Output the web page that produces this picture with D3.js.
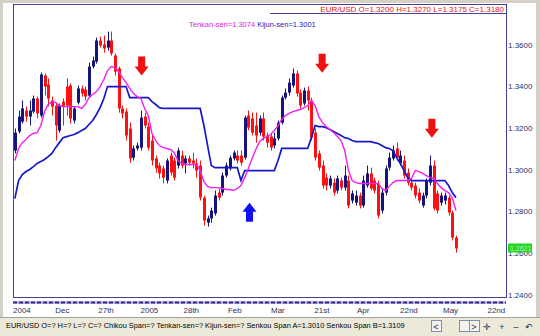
<!DOCTYPE html>
<html>
<head>
<meta charset="utf-8">
<script src="https://cdn.jsdelivr.net/npm/d3@7"></script>
<style>
body { margin: 0; background: #fff; }
svg { display: block; font-family: "Liberation Sans", Arial, sans-serif; }
</style>
</head>
<body>
<svg></svg>
<script>
var svgWidth = 540, svgHeight = 336;

// daily EUR/USD candles
var openP = [
  1.3091, 1.3182, 1.3230, 1.3283, 1.3254, 1.3278, 1.3341, 1.3259, 1.3451, 1.3408,
  1.3331, 1.3307, 1.3187, 1.3326, 1.3398, 1.3403, 1.3235, 1.3321, 1.3389, 1.3384,
  1.3355, 1.3494, 1.3518, 1.3619, 1.3600, 1.3585, 1.3619, 1.3547, 1.3485, 1.3293,
  1.3278, 1.3197, 1.3057, 1.3101, 1.3105, 1.3254, 1.3206, 1.3139, 1.3053, 1.3019,
  1.3005, 1.2947, 1.3067, 1.3043, 1.3019, 1.3067, 1.3029, 1.3053, 1.3043, 1.3029,
  1.3019, 1.2865, 1.2745, 1.2765, 1.2789, 1.2889, 1.2889, 1.2971, 1.3005, 1.3053,
  1.3067, 1.3067, 1.3057, 1.3259, 1.3245, 1.3211, 1.3177, 1.3245, 1.3163, 1.3158,
  1.3115, 1.3149, 1.3225, 1.3345, 1.3369, 1.3403, 1.3461, 1.3369, 1.3317, 1.3379,
  1.3331, 1.3177, 1.3077, 1.3019, 1.2961, 1.2923, 1.2937, 1.2899, 1.2947, 1.2913,
  1.2947, 1.2851, 1.2841, 1.2875, 1.2827, 1.2923, 1.2981, 1.2947, 1.2933, 1.2803,
  1.2889, 1.3009, 1.3053, 1.3101, 1.3029, 1.3043, 1.2985, 1.2937, 1.2923, 1.2889,
  1.2827, 1.2875, 1.2937, 1.3019, 1.2885, 1.2841, 1.2851, 1.2865, 1.2793, 1.2673
];
var highP = [
  1.3197, 1.3283, 1.3331, 1.3302, 1.3331, 1.3355, 1.3350, 1.3465, 1.3461, 1.3437,
  1.3350, 1.3321, 1.3317, 1.3341, 1.3437, 1.3413, 1.3302, 1.3403, 1.3403, 1.3398,
  1.3513, 1.3542, 1.3633, 1.3638, 1.3643, 1.3662, 1.3662, 1.3557, 1.3494, 1.3307,
  1.3293, 1.3225, 1.3115, 1.3129, 1.3283, 1.3273, 1.3225, 1.3163, 1.3067, 1.3033,
  1.3019, 1.3053, 1.3081, 1.3057, 1.3105, 1.3091, 1.3067, 1.3067, 1.3081, 1.3053,
  1.3043, 1.2875, 1.2779, 1.2817, 1.2899, 1.2909, 1.2985, 1.3033, 1.3067, 1.3091,
  1.3091, 1.3091, 1.3259, 1.3283, 1.3273, 1.3273, 1.3259, 1.3273, 1.3177, 1.3173,
  1.3177, 1.3235, 1.3355, 1.3389, 1.3437, 1.3485, 1.3475, 1.3384, 1.3393, 1.3398,
  1.3345, 1.3197, 1.3091, 1.3043, 1.2981, 1.2971, 1.2957, 1.2971, 1.2961, 1.3019,
  1.2971, 1.2899, 1.2899, 1.2889, 1.2971, 1.3019, 1.3009, 1.2961, 1.2947, 1.2909,
  1.3019, 1.3081, 1.3115, 1.3129, 1.3091, 1.3067, 1.3005, 1.2957, 1.2937, 1.2909,
  1.2889, 1.2957, 1.3067, 1.3043, 1.2899, 1.2889, 1.2889, 1.2875, 1.2803, 1.2683
];
var lowP = [
  1.3077, 1.3173, 1.3221, 1.3230, 1.3211, 1.3269, 1.3245, 1.3249, 1.3355, 1.3302,
  1.3259, 1.3139, 1.3177, 1.3211, 1.3259, 1.3221, 1.3221, 1.3312, 1.3350, 1.3331,
  1.3345, 1.3485, 1.3509, 1.3585, 1.3561, 1.3571, 1.3547, 1.3451, 1.3273, 1.3245,
  1.3139, 1.3033, 1.3043, 1.3091, 1.3091, 1.3197, 1.3091, 1.3019, 1.2985, 1.2957,
  1.2933, 1.2933, 1.2971, 1.2947, 1.3005, 1.3005, 1.2981, 1.3019, 1.3005, 1.2961,
  1.2851, 1.2731, 1.2726, 1.2745, 1.2779, 1.2851, 1.2875, 1.2961, 1.2995, 1.3043,
  1.3029, 1.3019, 1.3048, 1.3187, 1.3163, 1.3129, 1.3163, 1.3139, 1.3105, 1.3091,
  1.3101, 1.3139, 1.3216, 1.3336, 1.3355, 1.3393, 1.3350, 1.3293, 1.3307, 1.3283,
  1.3139, 1.3043, 1.2995, 1.2909, 1.2899, 1.2909, 1.2875, 1.2885, 1.2899, 1.2899,
  1.2813, 1.2837, 1.2827, 1.2813, 1.2817, 1.2913, 1.2899, 1.2885, 1.2765, 1.2789,
  1.2875, 1.2995, 1.3043, 1.3043, 1.3019, 1.2957, 1.2923, 1.2899, 1.2861, 1.2837,
  1.2817, 1.2861, 1.2923, 1.2803, 1.2789, 1.2827, 1.2832, 1.2779, 1.2659, 1.2601
];
var closeP = [
  1.3177, 1.3254, 1.3293, 1.3254, 1.3283, 1.3341, 1.3269, 1.3456, 1.3398, 1.3341,
  1.3302, 1.3211, 1.3307, 1.3302, 1.3307, 1.3245, 1.3293, 1.3389, 1.3365, 1.3350,
  1.3494, 1.3523, 1.3619, 1.3595, 1.3581, 1.3619, 1.3557, 1.3470, 1.3293, 1.3269,
  1.3163, 1.3053, 1.3101, 1.3115, 1.3249, 1.3211, 1.3105, 1.3043, 1.3005, 1.2981,
  1.2961, 1.3043, 1.2985, 1.2961, 1.3091, 1.3019, 1.3053, 1.3033, 1.3029, 1.2995,
  1.2865, 1.2755, 1.2765, 1.2803, 1.2875, 1.2865, 1.2971, 1.3019, 1.3057, 1.3081,
  1.3043, 1.3033, 1.3249, 1.3201, 1.3177, 1.3163, 1.3245, 1.3158, 1.3129, 1.3105,
  1.3149, 1.3225, 1.3345, 1.3369, 1.3417, 1.3461, 1.3365, 1.3307, 1.3379, 1.3331,
  1.3153, 1.3057, 1.3009, 1.2923, 1.2923, 1.2957, 1.2889, 1.2957, 1.2913, 1.2971,
  1.2827, 1.2885, 1.2875, 1.2827, 1.2947, 1.2981, 1.2909, 1.2899, 1.2779, 1.2889,
  1.3005, 1.3057, 1.3091, 1.3057, 1.3067, 1.2971, 1.2937, 1.2913, 1.2875, 1.2851,
  1.2875, 1.2947, 1.3019, 1.2813, 1.2803, 1.2875, 1.2875, 1.2793, 1.2673, 1.2621
];

// ichimoku lines
var tenkan = [
  1.3043, 1.3101, 1.3129, 1.3144, 1.3163, 1.3173, 1.3177, 1.3211, 1.3278, 1.3312,
  1.3326, 1.3321, 1.3307, 1.3302, 1.3302, 1.3302, 1.3302, 1.3302, 1.3293, 1.3312,
  1.3345, 1.3360, 1.3374, 1.3398, 1.3432, 1.3475, 1.3494, 1.3489, 1.3470, 1.3441,
  1.3417, 1.3389, 1.3365, 1.3350, 1.3341, 1.3293, 1.3259, 1.3173, 1.3139, 1.3115,
  1.3105, 1.3101, 1.3096, 1.3081, 1.3043, 1.3029, 1.3024, 1.3024, 1.3024, 1.3024,
  1.2995, 1.2942, 1.2919, 1.2913, 1.2913, 1.2913, 1.2909, 1.2904, 1.2904, 1.2899,
  1.2909, 1.2923, 1.2961, 1.3005, 1.3053, 1.3096, 1.3134, 1.3149, 1.3158, 1.3168,
  1.3187, 1.3211, 1.3240, 1.3259, 1.3269, 1.3278, 1.3283, 1.3288, 1.3297, 1.3307,
  1.3331, 1.3307, 1.3254, 1.3225, 1.3206, 1.3192, 1.3177, 1.3158, 1.3139, 1.3091,
  1.2995, 1.2947, 1.2937, 1.2933, 1.2933, 1.2933, 1.2933, 1.2933, 1.2933, 1.2909,
  1.2899, 1.2919, 1.2937, 1.2947, 1.2947, 1.2947, 1.2947, 1.2957, 1.2995, 1.2990,
  1.2981, 1.2971, 1.2961, 1.2957, 1.2933, 1.2913, 1.2899, 1.2889, 1.2865, 1.2803
];
var kijun = [
  1.2861, 1.2947, 1.2976, 1.2990, 1.3000, 1.3014, 1.3029, 1.3038, 1.3048, 1.3062,
  1.3077, 1.3105, 1.3129, 1.3153, 1.3158, 1.3163, 1.3168, 1.3177, 1.3187, 1.3197,
  1.3216, 1.3235, 1.3264, 1.3297, 1.3341, 1.3398, 1.3398, 1.3398, 1.3398, 1.3398,
  1.3398, 1.3345, 1.3345, 1.3345, 1.3345, 1.3345, 1.3345, 1.3326, 1.3312, 1.3297,
  1.3293, 1.3293, 1.3293, 1.3293, 1.3293, 1.3293, 1.3293, 1.3293, 1.3293, 1.3293,
  1.3293, 1.3211, 1.3115, 1.3019, 1.3009, 1.3009, 1.3009, 1.3009, 1.3009, 1.3009,
  1.3009, 1.2947, 1.2995, 1.2995, 1.2995, 1.2995, 1.2995, 1.2995, 1.2995, 1.2995,
  1.2995, 1.3043, 1.3101, 1.3101, 1.3101, 1.3101, 1.3101, 1.3101, 1.3101, 1.3101,
  1.3153, 1.3211, 1.3206, 1.3206, 1.3201, 1.3192, 1.3182, 1.3173, 1.3163, 1.3153,
  1.3149, 1.3139, 1.3134, 1.3134, 1.3134, 1.3134, 1.3134, 1.3129, 1.3125, 1.3115,
  1.3105, 1.3101, 1.3091, 1.3057, 1.3029, 1.2995, 1.2961, 1.2947, 1.2947, 1.2947,
  1.2947, 1.2947, 1.2947, 1.2947, 1.2947, 1.2947, 1.2947, 1.2923, 1.2889, 1.2865
];

// x axis labels sit at these bar positions
var tickIdx = [0, 11.4, 23, 34.4, 46, 58, 69.6, 81.3, 92.8, 104.4, 116, 128];
var tickLabels = ["2004", "Dec", "27th", "2005", "28th", "Feb", "Mar", "21st", "Apr", "22nd", "May", "22nd"];
var priceTicks = [1.24, 1.26, 1.28, 1.30, 1.32, 1.34, 1.36];

// annotation arrows: bar position and price of the tip
var downArrows = [{i: 34.2, p: 1.3451}, {i: 82.9, p: 1.3465}, {i: 112.5, p: 1.3153}];
var upArrows = [{i: 63.3, p: 1.2841}];

var titleText = "EUR/USD O=1.3200 H=1.3270 L=1.3175 C=1.3180";
var tenkanText = "Tenkan-sen=1.3074";
var kijunText = "Kijun-sen=1.3001";
var statusText = "EUR/USD O=? H=? L=? C=?  Chikou Span=? Tenkan-sen=? Kijun-sen=? Senkou Span A=1.3010 Senkou Span B=1.3109";

var svg = d3.select("svg")
            .attr("width", svgWidth)
            .attr("height", svgHeight);

var plotLeft = 13, plotRight = 506, plotTop = 4, plotBottom = 297;

var x = d3.scaleLinear().domain([-0.5, 132.5]).range([plotLeft, plotRight]);
var y = d3.scaleLinear().domain([1.24, 1.36]).range([294.5, 44.5]);

// window chrome
svg.append("rect").attr("width", svgWidth).attr("height", svgHeight).attr("fill", "#d4d0c8");
svg.append("rect").attr("x", 3).attr("y", 3).attr("width", 533).attr("height", 314).attr("fill", "#fff");

// frame
svg.append("rect")
    .attr("x", plotLeft + 0.5).attr("y", plotTop + 0.5)
    .attr("width", plotRight - plotLeft).attr("height", plotBottom - plotTop)
    .attr("fill", "none").attr("stroke", "#4a3f96").attr("stroke-width", 1);

// price labels on the right
svg.append("g").selectAll("text")
    .data(priceTicks)
    .enter().append("text")
    .attr("x", plotRight + 2)
    .attr("y", function(d) { return y(d) + 3; })
    .attr("font-size", 8)
    .attr("fill", "#303060")
    .text(function(d) { return d.toFixed(4); });

// x axis dashed band + labels
svg.append("line")
    .attr("x1", plotLeft).attr("x2", plotRight)
    .attr("y1", 302.5).attr("y2", 302.5)
    .attr("stroke", "#c0b8e8").attr("stroke-width", 3);
svg.append("line")
    .attr("x1", plotLeft).attr("x2", plotRight)
    .attr("y1", 302.5).attr("y2", 302.5)
    .attr("stroke", "#3a2f8a").attr("stroke-width", 2)
    .attr("stroke-dasharray", "4,2");

svg.append("g").selectAll("text")
    .data(tickIdx)
    .enter().append("text")
    .attr("x", function(d) { return x(d - 0.5); })
    .attr("y", 313)
    .attr("font-size", 8)
    .attr("fill", "#303060")
    .text(function(d, i) { return tickLabels[i]; });

// candles
var bars = d3.range(closeP.length);
var upCol = "#14147e", downCol = "#ff1010";

var candles = svg.append("g");
candles.selectAll("line")
    .data(bars)
    .enter().append("line")
    .attr("x1", function(i) { return Math.round(x(i)) + 0.5; })
    .attr("x2", function(i) { return Math.round(x(i)) + 0.5; })
    .attr("y1", function(i) { return y(highP[i]); })
    .attr("y2", function(i) { return y(lowP[i]); })
    .attr("stroke", function(i) { return closeP[i] >= openP[i] ? upCol : downCol; })
    .attr("stroke-width", 1);

candles.selectAll("rect")
    .data(bars)
    .enter().append("rect")
    .attr("x", function(i) { return Math.round(x(i)) - 1; })
    .attr("width", 3)
    .attr("y", function(i) { return y(Math.max(openP[i], closeP[i])); })
    .attr("height", function(i) { return Math.max(1, Math.abs(y(openP[i]) - y(closeP[i]))); })
    .attr("fill", function(i) { return closeP[i] >= openP[i] ? upCol : downCol; });

// ichimoku lines
var line = d3.line()
    .x(function(d, i) { return x(i); })
    .y(function(d) { return y(d); });

svg.append("path").datum(kijun)
    .attr("d", line)
    .attr("fill", "none").attr("stroke", "#1818c8").attr("stroke-width", 1.7);
svg.append("path").datum(tenkan)
    .attr("d", line)
    .attr("fill", "none").attr("stroke", "#f020f0").attr("stroke-width", 1.4);

// arrows
function downArrow(d) {
    var cx = x(d.i), ty = y(d.p);
    return "M" + cx + "," + ty +
        "L" + (cx - 7) + "," + (ty - 9) + "L" + (cx - 3.5) + "," + (ty - 9) +
        "L" + (cx - 3.5) + "," + (ty - 19) + "L" + (cx + 3.5) + "," + (ty - 19) +
        "L" + (cx + 3.5) + "," + (ty - 9) + "L" + (cx + 7) + "," + (ty - 9) + "Z";
}
function upArrow(d) {
    var cx = x(d.i), ty = y(d.p);
    return "M" + cx + "," + ty +
        "L" + (cx - 7) + "," + (ty + 9) + "L" + (cx - 3.5) + "," + (ty + 9) +
        "L" + (cx - 3.5) + "," + (ty + 19) + "L" + (cx + 3.5) + "," + (ty + 19) +
        "L" + (cx + 3.5) + "," + (ty + 9) + "L" + (cx + 7) + "," + (ty + 9) + "Z";
}
svg.append("g").selectAll("path")
    .data(downArrows)
    .enter().append("path")
    .attr("d", downArrow)
    .attr("fill", "#f01010");
svg.append("g").selectAll("path")
    .data(upArrows)
    .enter().append("path")
    .attr("d", upArrow)
    .attr("fill", "#1010f0");

// last price tag, drawn over the 1.2600 label like the original
var last = closeP[closeP.length - 1];
svg.append("rect")
    .attr("x", plotRight + 2).attr("y", y(last) - 5)
    .attr("width", 24).attr("height", 9)
    .attr("fill", "#22d822");
svg.append("text")
    .attr("x", plotRight + 4).attr("y", y(last) + 2.5)
    .attr("font-size", 7).attr("fill", "#b8f0b8")
    .text(last.toFixed(4));

// header texts
svg.append("text")
    .attr("x", plotRight - 2).attr("y", 12)
    .attr("text-anchor", "end")
    .attr("font-size", 8).attr("fill", "#e01010")
    .text(titleText);
svg.append("line")
    .attr("x1", 270).attr("x2", plotRight)
    .attr("y1", 13.5).attr("y2", 13.5)
    .attr("stroke", "#4a3f96");
var hdr = svg.append("text")
    .attr("x", 189).attr("y", 27)
    .attr("font-size", 7.5);
hdr.append("tspan").attr("fill", "#e020e0").text(tenkanText + " ");
hdr.append("tspan").attr("fill", "#2020c0").text(kijunText);

// status bar
svg.append("rect").attr("x", 0).attr("y", 317).attr("width", svgWidth).attr("height", 19).attr("fill", "#ece9d8");
svg.append("line").attr("x1", 0).attr("x2", svgWidth).attr("y1", 317.5).attr("y2", 317.5).attr("stroke", "#a0a0a0");
svg.append("text")
    .attr("x", 6).attr("y", 328)
    .attr("font-size", 7.4).attr("fill", "#000")
    .text(statusText);

var btns = [{x: 431, t: "<"}, {x: 459, t: ""}, {x: 469, t: ">"}];
svg.append("g").selectAll("rect")
    .data(btns)
    .enter().append("rect")
    .attr("x", function(d) { return d.x + 0.5; }).attr("y", 320.5)
    .attr("width", 10).attr("height", 11)
    .attr("fill", "#f4f2ea").attr("stroke", "#8090b0");
svg.append("g").selectAll("text")
    .data(btns.concat([{x: 482, t: "\u271B"}, {x: 497, t: "+"}, {x: 511, t: "\u2013"}, {x: 524, t: "\u21B6"}]))
    .enter().append("text")
    .attr("x", function(d) { return d.x + 5; }).attr("y", 330)
    .attr("text-anchor", "middle")
    .attr("font-size", 9).attr("fill", "#203060")
    .text(function(d) { return d.t; });
</script>
</body>
</html>
